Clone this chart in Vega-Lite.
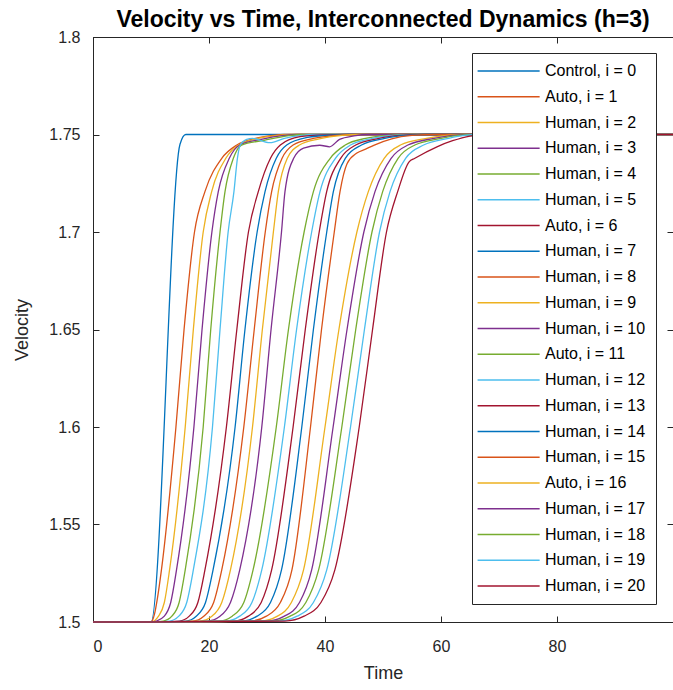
{
  "$schema": "https://vega.github.io/schema/vega-lite/v6.json",
  "width": 580,
  "height": 585,
  "autosize": {"type": "none"},
  "padding": {"left": 93, "top": 37, "right": 0, "bottom": 68},
  "background": "white",
  "title": {"text": "Velocity vs Time, Interconnected Dynamics (h=3)", "fontSize": 23, "fontWeight": "bold", "font": "Liberation Sans", "color": "#000000", "offset": -3, "anchor": "middle"},
  "config": {
    "view": {"stroke": "#262626", "strokeWidth": 1},
    "font": "Liberation Sans",
    "axis": {"domainColor": "#262626", "tickColor": "#262626", "labelColor": "#262626", "titleColor": "#262626", "labelFont": "Liberation Sans", "titleFont": "Liberation Sans", "labelFontSize": 16, "titleFontSize": 18, "titleFontWeight": "normal", "tickSize": -6, "grid": false, "domainWidth": 1, "tickWidth": 1},
    "legend": {"orient": "none", "legendX": 379, "legendY": 16, "symbolType": "M-2,0H8", "symbolSize": 154, "symbolStrokeWidth": 1.3, "labelFont": "Liberation Sans", "labelFontSize": 16, "labelColor": "#000000", "padding": 10, "rowPadding": 9.75, "strokeColor": "#262626", "fillColor": "white", "labelOffset": 47, "labelLimit": 0}
  },
  "data": {"values": [
    {"s": "Control, i = 0", "t": [0,10,15,16,100], "v": [1.5,1.5,1.745,1.75,1.75]},
    {"s": "Auto, i = 1", "t": [0,10,10.6,11.1,11.8,14.3,15.7,17.5,19.3,22.2,24.8,28,31,33,100], "v": [1.5,1.5,1.504,1.512,1.5267,1.6,1.65,1.7,1.7207,1.7378,1.7446,1.748,1.7495,1.75,1.75]},
    {"s": "Human, i = 2", "t": [0,10,11.3,12.3,13.2,15.9,17.3,19.0,20.46,22.9,25.1,28.5,32,34,100], "v": [1.5,1.5,1.503,1.51,1.5267,1.6,1.65,1.7,1.7207,1.7378,1.7446,1.748,1.7495,1.75,1.75]},
    {"s": "Human, i = 3", "t": [0,10,10.9,12.3,13.4,14.4,17.4,18.8,20.5,21.6,23.5,25.3,29,33,35,100], "v": [1.5,1.5,1.5005,1.503,1.51,1.5267,1.6,1.65,1.7,1.7207,1.7378,1.7446,1.7475,1.7495,1.75,1.75]},
    {"s": "Human, i = 4", "t": [0,10,12.1,13.6,14.85,15.9,19.0,20.3,21.9,22.76,24.2,25.6,29.5,33.5,36,100], "v": [1.5,1.5,1.5005,1.503,1.51,1.5267,1.6,1.65,1.7,1.7207,1.7378,1.7446,1.747,1.7493,1.75,1.75]},
    {"s": "Human, i = 5", "t": [0,10,13.2,14.8,16.16,17.3,20.6,21.9,23.3,24.3,24.9,25.4,26.5,27.5,30.5,33,36,38,100], "v": [1.5,1.5,1.5005,1.503,1.51,1.5267,1.6,1.65,1.7,1.7207,1.7378,1.7446,1.7475,1.748,1.7458,1.748,1.7495,1.75,1.75]},
    {"s": "Auto, i = 6", "t": [0,10,14.9,16.6,18.08,19.3,23.0,24.8,26.8,28.5,30.6,32.3,35.7,40,43.5,100], "v": [1.5,1.5,1.5005,1.503,1.51,1.5267,1.6,1.65,1.7,1.7207,1.7378,1.7446,1.7489,1.7498,1.75,1.75]},
    {"s": "Human, i = 7", "t": [0,10,16.0,17.8,19.4,20.7,24.5,26.2,28.3,29.66,31.6,33.4,37,41,44,100], "v": [1.5,1.5,1.5005,1.503,1.51,1.5267,1.6,1.65,1.7,1.7207,1.7378,1.7446,1.7485,1.7497,1.75,1.75]},
    {"s": "Human, i = 8", "t": [0,10,17.2,19.1,20.8,22.2,26.0,27.8,29.7,30.8,32.6,34.5,38,42,45,100], "v": [1.5,1.5,1.5005,1.503,1.51,1.5267,1.6,1.65,1.7,1.7207,1.7378,1.7446,1.748,1.7496,1.75,1.75]},
    {"s": "Human, i = 9", "t": [0,10,18.4,20.5,22.2,23.7,27.5,29.2,31.1,31.95,33.5,35.6,39,43,46,100], "v": [1.5,1.5,1.5005,1.503,1.51,1.5267,1.6,1.65,1.7,1.7207,1.7378,1.7446,1.7477,1.7495,1.75,1.75]},
    {"s": "Human, i = 10", "t": [0,10,19.7,21.9,23.7,25.3,29.1,30.7,32.5,33.1,34.6,36.3,39.1,40.8,42.5,45,47.5,100], "v": [1.5,1.5,1.5005,1.503,1.51,1.5267,1.6,1.65,1.7,1.7207,1.7378,1.743,1.7445,1.7437,1.7475,1.7493,1.75,1.75]},
    {"s": "Auto, i = 11", "t": [0,10,21.7,24.0,26.0,27.6,31.6,33.7,36.4,38.0,40.9,43.5,47,51,55,100], "v": [1.5,1.5,1.5005,1.503,1.51,1.5267,1.6,1.65,1.7,1.7207,1.7378,1.7446,1.748,1.7495,1.75,1.75]},
    {"s": "Human, i = 12", "t": [0,10,22.9,25.3,27.4,29.1,33.0,35.1,37.7,39.14,41.8,44.4,48.2,52,56,100], "v": [1.5,1.5,1.5005,1.503,1.51,1.5267,1.6,1.65,1.7,1.7207,1.7378,1.7446,1.748,1.7495,1.75,1.75]},
    {"s": "Human, i = 13", "t": [0,10,24.3,26.8,29.0,30.8,34.5,36.6,39.0,40.29,42.7,45.3,49.3,53,57,100], "v": [1.5,1.5,1.5005,1.503,1.51,1.5267,1.6,1.65,1.7,1.7207,1.7378,1.7446,1.748,1.7495,1.75,1.75]},
    {"s": "Human, i = 14", "t": [0,10,25.7,28.3,30.6,32.5,36.0,38.0,40.3,41.44,43.5,46.3,50.3,54,58,100], "v": [1.5,1.5,1.5005,1.503,1.51,1.5267,1.6,1.65,1.7,1.7207,1.7378,1.7446,1.748,1.7495,1.75,1.75]},
    {"s": "Human, i = 15", "t": [0,10,27.2,29.9,32.3,34.3,37.5,39.4,41.6,42.59,43.8,45.5,47,48.5,51.5,55,59,100], "v": [1.5,1.5,1.5005,1.503,1.51,1.5267,1.6,1.65,1.7,1.7207,1.735,1.7405,1.7425,1.7446,1.7478,1.7495,1.75,1.75]},
    {"s": "Auto, i = 16", "t": [0,10,28.9,31.8,34.2,36.3,40.0,42.4,45.5,47.47,50.2,53.0,57.5,61,64,100], "v": [1.5,1.5,1.5005,1.503,1.51,1.5267,1.6,1.65,1.7,1.7207,1.7378,1.7446,1.748,1.7495,1.75,1.75]},
    {"s": "Human, i = 17", "t": [0,10,30.0,33.0,35.6,37.7,41.4,43.8,46.7,48.62,51.4,54.3,58.8,62,65,100], "v": [1.5,1.5,1.5005,1.503,1.51,1.5267,1.6,1.65,1.7,1.7207,1.7378,1.7446,1.748,1.7495,1.75,1.75]},
    {"s": "Human, i = 18", "t": [0,10,30.9,34.0,36.7,38.9,42.9,45.3,48.1,49.94,52.6,55.5,60,63,66,100], "v": [1.5,1.5,1.5005,1.503,1.51,1.5267,1.6,1.65,1.7,1.7207,1.7378,1.7446,1.748,1.7495,1.75,1.75]},
    {"s": "Human, i = 19", "t": [0,10,32.0,35.2,38.0,40.3,44.4,46.8,49.4,51.21,53.9,57.0,61.3,64,66.5,100], "v": [1.5,1.5,1.5005,1.503,1.51,1.5267,1.6,1.65,1.7,1.7207,1.7378,1.7446,1.748,1.7495,1.75,1.75]},
    {"s": "Human, i = 20", "t": [0,10,33.1,36.4,39.3,41.7,45.9,48.2,50.6,52.53,54.5,55.5,59.3,62,65,67.5,100], "v": [1.5,1.5,1.5005,1.503,1.51,1.5267,1.6,1.65,1.7,1.7207,1.736,1.7378,1.7437,1.7468,1.7492,1.75,1.75]}
  ]},
  "transform": [{"flatten": ["t", "v"]}],
  "layer": [
    {
      "mark": {"type": "line", "strokeWidth": 1.3, "interpolate": "monotone"},
      "encoding": {
        "x": {"field": "t", "type": "quantitative", "scale": {"domain": [0, 100], "nice": false, "zero": false}, "axis": {"values": [0, 20, 40, 60, 80], "title": "Time", "labelPadding": 22, "titlePadding": 10}},
        "y": {"field": "v", "type": "quantitative", "scale": {"domain": [1.5, 1.8], "nice": false, "zero": false}, "axis": {"values": [1.5, 1.55, 1.6, 1.65, 1.7, 1.75, 1.8], "format": "~g", "title": "Velocity", "labelPadding": 19, "titlePadding": 17}},
        "color": {"field": "s", "type": "nominal", "title": null,
          "scale": {"domain": ["Control, i = 0","Auto, i = 1","Human, i = 2","Human, i = 3","Human, i = 4","Human, i = 5","Auto, i = 6","Human, i = 7","Human, i = 8","Human, i = 9","Human, i = 10","Auto, i = 11","Human, i = 12","Human, i = 13","Human, i = 14","Human, i = 15","Auto, i = 16","Human, i = 17","Human, i = 18","Human, i = 19","Human, i = 20"],
            "range": ["#0072BD","#D95319","#EDB120","#7E2F8E","#77AC30","#4DBEEE","#A2142F","#0072BD","#D95319","#EDB120","#7E2F8E","#77AC30","#4DBEEE","#A2142F","#0072BD","#D95319","#EDB120","#7E2F8E","#77AC30","#4DBEEE","#A2142F"]}}
      }
    },
    {
      "mark": {"type": "point", "opacity": 0},
      "encoding": {
        "x": {"field": "t", "type": "quantitative", "scale": {"domain": [0, 100], "nice": false, "zero": false}, "axis": {"orient": "top", "values": [0, 20, 40, 60, 80], "labels": false, "title": null}},
        "y": {"field": "v", "type": "quantitative", "scale": {"domain": [1.5, 1.8], "nice": false, "zero": false}, "axis": {"orient": "right", "values": [1.5, 1.55, 1.6, 1.65, 1.7, 1.75, 1.8], "labels": false, "title": null}}
      }
    }
  ],
  "resolve": {"axis": {"x": "independent", "y": "independent"}}
}
